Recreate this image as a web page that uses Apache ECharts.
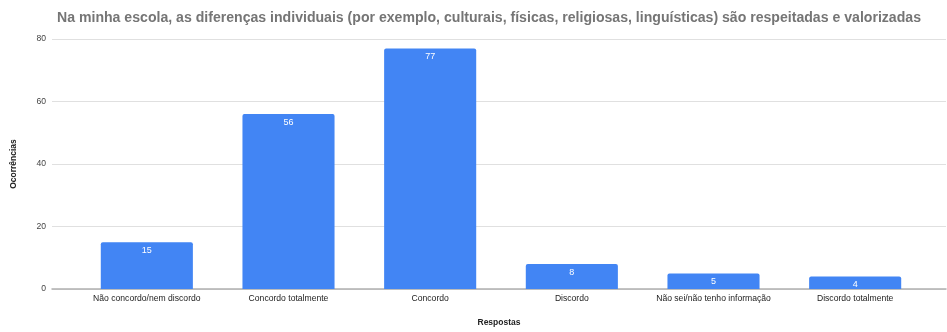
<!DOCTYPE html>
<html>
<head>
<meta charset="utf-8">
<script src="https://cdn.jsdelivr.net/npm/echarts@6/dist/echarts.min.js"></script>
<style>
  html, body { margin: 0; padding: 0; background: #fff; }
  #chart { width: 947px; height: 332px; }
</style>
</head>
<body>
<div id="chart"></div>
<script>
// Survey answers and their counts
const categories = [
  'Não concordo/nem discordo',
  'Concordo totalmente',
  'Concordo',
  'Discordo',
  'Não sei/não tenho informação',
  'Discordo totalmente'
];
const counts = [15, 56, 77, 8, 5, 4];
const yTicks = { min: 0, max: 80, interval: 20 };

const chart = echarts.init(document.getElementById('chart'));
const font = 'Liberation Sans, Arial, sans-serif';

chart.setOption({
  animation: false,
  title: {
    text: 'Na minha escola, as diferenças individuais (por exemplo, culturais, físicas, religiosas, linguísticas) são respeitadas e valorizadas',
    left: 484, top: 6, textAlign: 'center',
    textStyle: { fontFamily: font, fontSize: 14.1, fontWeight: 'bold', color: '#757575' }
  },
  grid: [
    // full-width grid carrying the value scale and gridlines
    { left: 52, right: 1, top: 39, bottom: 43 },
    // inner grid carrying the bars
    { left: 76, right: 21, top: 39, bottom: 43 }
  ],
  xAxis: [
    { gridIndex: 0, type: 'value', min: 0, max: 1, show: true,
      axisLine: { show: true, lineStyle: { color: '#b0b0b0', width: 1.5 } },
      axisTick: { show: false }, axisLabel: { show: false }, splitLine: { show: false },
      name: 'Respostas', nameLocation: 'middle', nameGap: 29,
      nameTextStyle: { fontFamily: font, fontSize: 8.5, fontWeight: 'bold', color: '#222' }
    },
    { gridIndex: 1, type: 'category', data: categories,
      axisLine: { show: false }, axisTick: { show: false },
      axisLabel: { fontFamily: font, fontSize: 8.6, color: '#222', margin: 5, interval: 0 }
    }
  ],
  yAxis: [
    { gridIndex: 0, type: 'value', min: yTicks.min, max: yTicks.max, interval: yTicks.interval,
      axisLine: { show: false }, axisTick: { show: false },
      axisLabel: { fontFamily: font, fontSize: 8.6, color: '#444', margin: 6 },
      splitLine: { lineStyle: { color: '#e0e0e0', width: 1 } },
      name: 'Ocorrências', nameLocation: 'middle', nameGap: 34, nameRotate: 90,
      nameTextStyle: { fontFamily: font, fontSize: 8.5, fontWeight: 'bold', color: '#222' }
    },
    { gridIndex: 1, type: 'value', min: yTicks.min, max: yTicks.max, interval: yTicks.interval,
      show: false, splitLine: { show: false } }
  ],
  series: [{
    type: 'bar',
    xAxisIndex: 1, yAxisIndex: 1,
    data: counts,
    barWidth: '65%',
    itemStyle: { color: '#4285F4', borderRadius: [2, 2, 0, 0] },
    label: {
      show: true, position: 'insideTop', distance: 4,
      fontFamily: font, fontSize: 9, color: '#ffffff'
    }
  }]
});
</script>
</body>
</html>
